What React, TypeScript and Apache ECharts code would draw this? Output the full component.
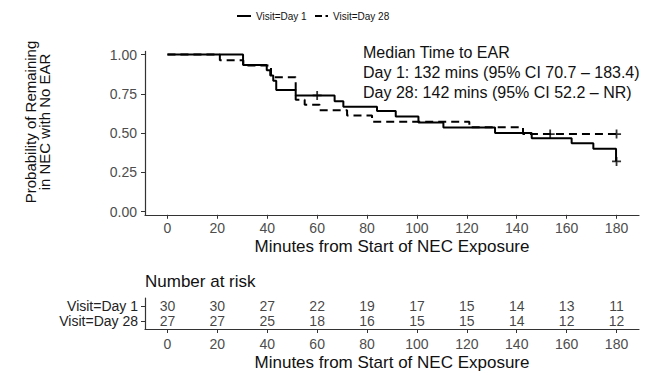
import React, { useEffect, useRef } from "react";
import * as echarts from "echarts";

const xTicks = [0, 20, 40, 60, 80, 100, 120, 140, 160, 180];
const yTicks = [0, 0.25, 0.5, 0.75, 1];

const day1Times = [0, 30.3, 39.8, 41.2, 42.4, 43.6, 51.4, 67, 70.5, 84, 91.5, 100.6, 110.6, 131.3, 146, 162, 170.7, 179.8, 180];
const day1Surv = [1, 0.933, 0.9, 0.867, 0.833, 0.775, 0.74, 0.703, 0.668, 0.64, 0.605, 0.568, 0.535, 0.5, 0.467, 0.435, 0.4, 0.32, 0.32];

const day28Times = [0, 21, 30.4, 41.5, 51.4, 55, 61, 72, 82, 121, 142.5, 180];
const day28Surv = [1, 0.963, 0.93, 0.856, 0.713, 0.68, 0.645, 0.612, 0.572, 0.537, 0.494, 0.494];

const day1CensorTimes = [60, 180];
const day1CensorSurv = [0.74, 0.32];
const day28CensorTimes = [153.4, 180];
const day28CensorSurv = [0.494, 0.494];

const riskGroups = ["Visit=Day 1", "Visit=Day 28"];
const riskTimes = [0, 20, 40, 60, 80, 100, 120, 140, 160, 180];
const riskDay1 = [30, 30, 27, 22, 19, 17, 15, 14, 13, 11];
const riskDay28 = [27, 27, 25, 18, 16, 15, 15, 14, 12, 12];

const medianLines = [
  "Median Time to EAR",
  "Day 1: 132 mins (95% CI 70.7 \u2013 183.4)",
  "Day 28: 142 mins (95% CI 52.2 \u2013 NR)",
];

const FONT = "'Liberation Sans', Arial, sans-serif";
const PLUS = "path://M4,0 H6 V4 H10 V6 H6 V10 H4 V6 H0 V4 H4 Z";

export default function App() {
  const ref = useRef<HTMLDivElement>(null);
  useEffect(() => {
    if (!ref.current) return;
    const chart = echarts.init(ref.current, null, { renderer: "svg" });
    const axisLine = { show: true, onZero: false, lineStyle: { color: "#333", width: 1.2 } };
    const xAxisBase = {
      type: "value",
      min: -9,
      max: 189,
      axisLine,
      splitLine: { show: false },
      axisTick: { show: true, length: 4, customValues: xTicks, lineStyle: { color: "#333" } },
      axisLabel: { customValues: xTicks, fontSize: 14, color: "#4d4d4d", fontFamily: FONT, margin: 6 },
    };
    const riskLabel = {
      show: true,
      position: "inside",
      formatter: (p: any) => String(p.value[2]),
      fontSize: 14,
      lineHeight: 14,
      color: "#111",
      fontFamily: FONT,
    };
    chart.setOption({
      animation: false,
      textStyle: { fontFamily: FONT },
      grid: [
        { left: 145, top: 51.4, width: 494, height: 163.4 },
        { left: 145, top: 298, width: 494, height: 35 },
      ],
      xAxis: [
        {
          ...xAxisBase,
          gridIndex: 0,
          name: "Minutes from Start of NEC Exposure",
          nameLocation: "middle",
          nameGap: 23,
          nameTextStyle: { fontSize: 17, color: "#111", fontFamily: FONT },
        },
        {
          ...xAxisBase,
          gridIndex: 1,
          axisLabel: { ...xAxisBase.axisLabel, margin: 8 },
          name: "Minutes from Start of NEC Exposure",
          nameLocation: "middle",
          nameGap: 25,
          nameTextStyle: { fontSize: 17, color: "#111", fontFamily: FONT },
        },
      ],
      yAxis: [
        {
          type: "value",
          gridIndex: 0,
          min: -0.02,
          max: 1.02,
          axisLine,
          splitLine: { show: false },
          axisTick: { show: true, length: 4, customValues: yTicks, lineStyle: { color: "#333" } },
          axisLabel: {
            customValues: yTicks,
            fontSize: 14,
            color: "#4d4d4d",
            fontFamily: FONT,
            margin: 8,
            formatter: (v: number) => v.toFixed(2),
          },
        },
        {
          type: "category",
          gridIndex: 1,
          data: riskGroups,
          inverse: true,
          axisLine,
          splitLine: { show: false },
          axisTick: { show: true, length: 4, alignWithLabel: true, lineStyle: { color: "#333" } },
          axisLabel: { interval: 0, fontSize: 14, lineHeight: 14, color: "#222", fontFamily: FONT, margin: 7 },
        },
      ],
      series: [
        {
          type: "line",
          name: "Visit=Day 28",
          xAxisIndex: 0,
          yAxisIndex: 0,
          step: "end",
          showSymbol: false,
          data: day28Times.map((t, i) => [t, day28Surv[i]]),
          lineStyle: { color: "#000", width: 2, type: [8, 5] },
          z: 2,
        },
        {
          type: "line",
          name: "Visit=Day 1",
          xAxisIndex: 0,
          yAxisIndex: 0,
          step: "end",
          showSymbol: false,
          data: day1Times.map((t, i) => [t, day1Surv[i]]),
          lineStyle: { color: "#000", width: 2 },
          z: 3,
        },
        {
          type: "scatter",
          xAxisIndex: 0,
          yAxisIndex: 0,
          symbol: PLUS,
          symbolSize: 9,
          itemStyle: { color: "#000" },
          data: day1CensorTimes.map((t, i) => [t, day1CensorSurv[i]]),
          z: 4,
        },
        {
          type: "scatter",
          xAxisIndex: 0,
          yAxisIndex: 0,
          symbol: PLUS,
          symbolSize: 9,
          itemStyle: { color: "#000" },
          data: day28CensorTimes.map((t, i) => [t, day28CensorSurv[i]]),
          z: 4,
        },
        {
          type: "scatter",
          xAxisIndex: 1,
          yAxisIndex: 1,
          symbolSize: 1,
          itemStyle: { color: "rgba(0,0,0,0)" },
          data: riskTimes.map((t, i) => [t, riskGroups[0], riskDay1[i]]),
          label: riskLabel,
        },
        {
          type: "scatter",
          xAxisIndex: 1,
          yAxisIndex: 1,
          symbolSize: 1,
          itemStyle: { color: "rgba(0,0,0,0)" },
          data: riskTimes.map((t, i) => [t, riskGroups[1], riskDay28[i]]),
          label: riskLabel,
        },
      ],
      graphic: [
        { type: "line", shape: { x1: 237, y1: 16, x2: 251, y2: 16 }, style: { stroke: "#000", lineWidth: 2 } },
        {
          type: "text",
          x: 256,
          y: 16,
          style: { text: "Visit=Day 1", fontSize: 10, fontFamily: FONT, fill: "#111", verticalAlign: "middle", align: "left" },
        },
        { type: "line", shape: { x1: 315, y1: 16, x2: 322, y2: 16 }, style: { stroke: "#000", lineWidth: 2 } },
        { type: "line", shape: { x1: 325.5, y1: 16, x2: 328, y2: 16 }, style: { stroke: "#000", lineWidth: 2 } },
        {
          type: "text",
          x: 333,
          y: 16,
          style: { text: "Visit=Day 28", fontSize: 10, fontFamily: FONT, fill: "#111", verticalAlign: "middle", align: "left" },
        },
        {
          type: "text",
          x: 363,
          y: 42.7,
          style: {
            text: medianLines.join("\n"),
            fontSize: 16,
            lineHeight: 20,
            fontFamily: FONT,
            fill: "#111",
            align: "left",
            verticalAlign: "top",
          },
        },
        {
          type: "text",
          x: 37,
          y: 122,
          rotation: Math.PI / 2,
          style: {
            text: "Probability of Remaining\nin NEC with No EAR",
            fontSize: 15,
            lineHeight: 14,
            fontFamily: FONT,
            fill: "#111",
            align: "center",
            verticalAlign: "middle",
          },
        },
        {
          type: "text",
          x: 145,
          y: 281,
          style: { text: "Number at risk", fontSize: 17, fontFamily: FONT, fill: "#111", align: "left", verticalAlign: "middle" },
        },
      ],
    });
    return () => chart.dispose();
  }, []);
  return <div ref={ref} style={{ position: "fixed", left: 0, top: 0, width: 661, height: 372, background: "#fff" }} />;
}
